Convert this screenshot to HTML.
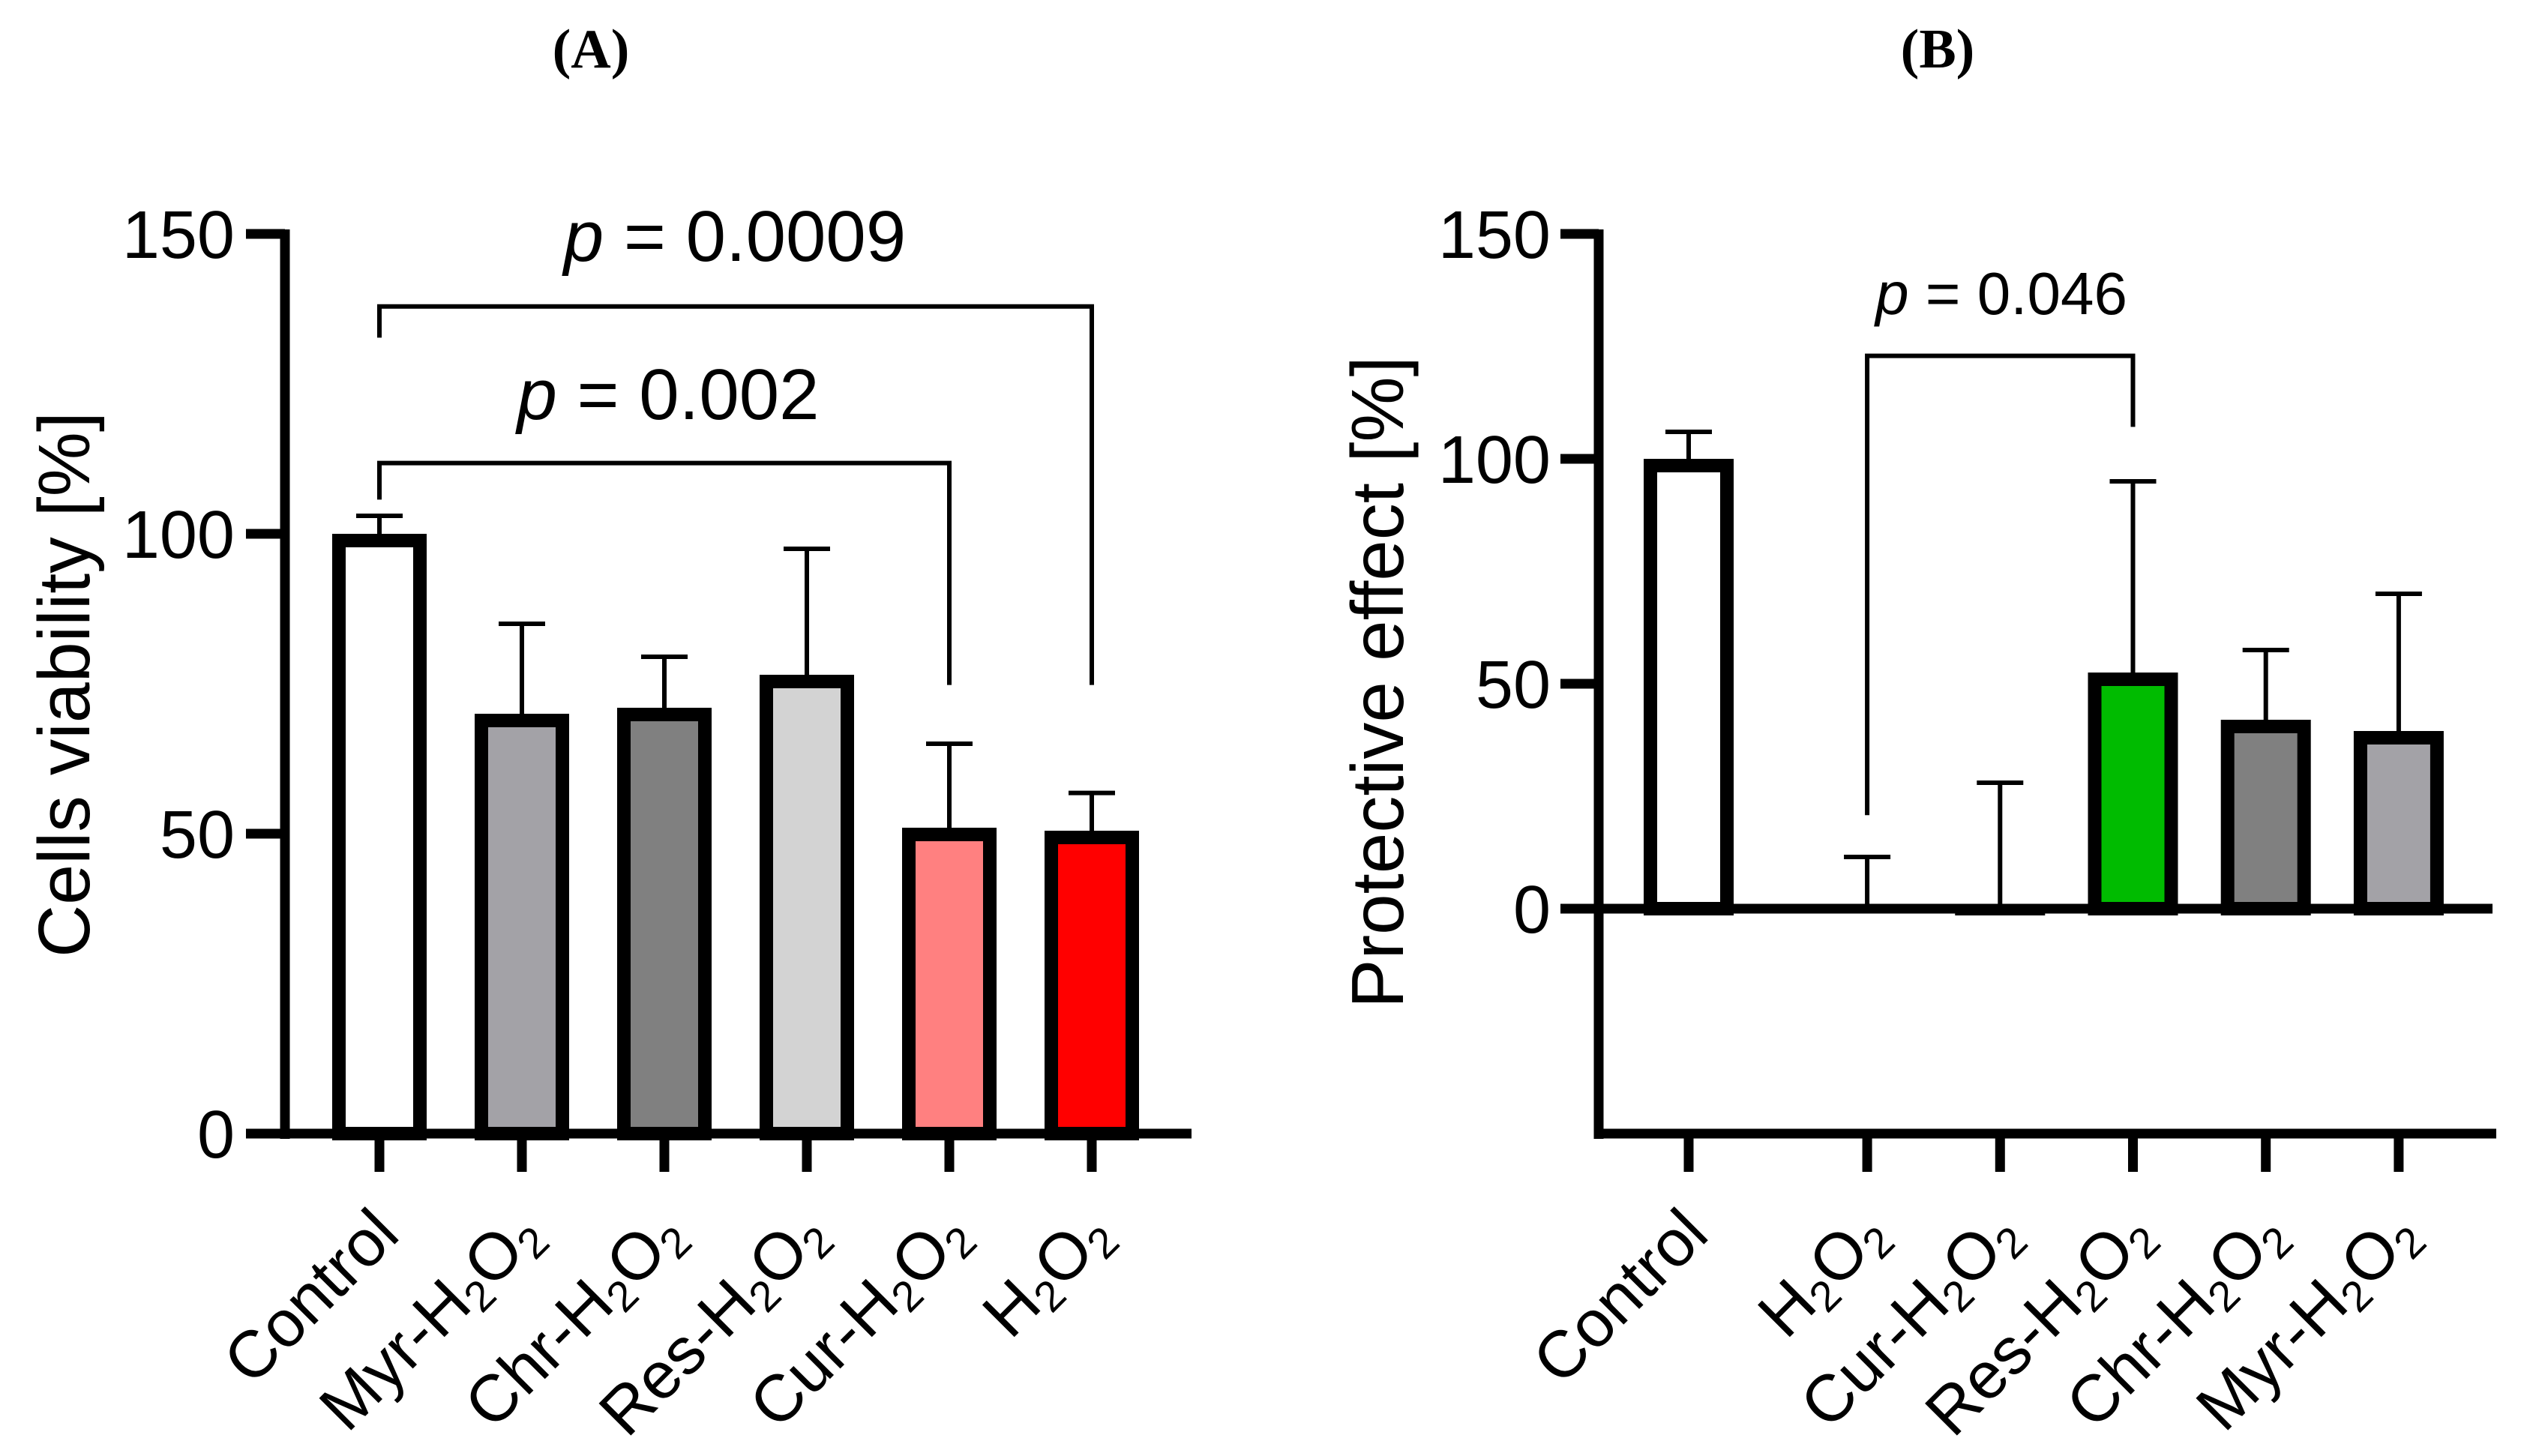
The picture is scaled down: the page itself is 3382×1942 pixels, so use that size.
<!DOCTYPE html>
<html><head><meta charset="utf-8"><style>
html,body{margin:0;padding:0;background:#fff;}
svg{display:block;}
text{font-family:"Liberation Sans",Arial,sans-serif;fill:#000;}
</style></head><body>
<svg id="fig" width="3382" height="1942" viewBox="0 0 3382 1942" xmlns="http://www.w3.org/2000/svg">
<text x="788" y="90" text-anchor="middle" style="font-family:'Liberation Serif',serif;font-weight:bold;font-size:74px">(A)</text>
<text x="2584" y="90" text-anchor="middle" style="font-family:'Liberation Serif',serif;font-weight:bold;font-size:74px">(B)</text>
<g id="chartA"></g>
<g id="chartB"></g>
</svg>
<script>
// ---- Chart A data ----
const catsA = ["Control","Myr-H2O2","Chr-H2O2","Res-H2O2","Cur-H2O2","H2O2"];
const valsA = [100, 70, 71, 76.5, 51, 50.5];
const errA = [3, 15, 8.5, 21, 14, 6.3];
const colorsA = ["#ffffff","#a3a2a7","#808080","#d3d3d3","#ff8080","#ff0000"];
const ticksA = [0, 50, 100, 150];
// ---- Chart B data ----
const catsB = ["Control","H2O2","Cur-H2O2","Res-H2O2","Chr-H2O2","Myr-H2O2"];
const valsB = [100, 0, -1, 52.5, 42, 39.5];
const errB = [6, 11.5, 29, 42.5, 15.5, 30.5];
const colorsB = ["#ffffff","#ffffff","#ffffff","#00bb00","#808080","#a3a2a7"];
const ticksB = [0, 50, 100, 150];

const NS = "http://www.w3.org/2000/svg";
function mk(parent, tag, attrs){const e=document.createElementNS(NS,tag);for(const k in attrs)e.setAttribute(k,attrs[k]);parent.appendChild(e);return e;}
function label(parent,x,y,txt,size){
  const t=mk(parent,"text",{x:x,y:y,"text-anchor":"end","font-size":size,transform:`rotate(-45 ${x} ${y})`});
  const parts=txt.split(/(H2O2)/);
  parts.forEach(p=>{
    if(p==="H2O2"){
      [["H",0],["2",1],["O",0],["2",1]].forEach(([c,s])=>{
        const ts=mk(t,"tspan",{});
        if(s){ts.setAttribute("font-size",size*0.65);ts.setAttribute("baseline-shift","-25%");}
        ts.textContent=c;});
    } else if(p){const ts=mk(t,"tspan",{});ts.textContent=p;}
  });
  return t;
}

// Chart A
(function(){
  const g=document.getElementById("chartA");
  const y0=1512, ppu=8, axX=380;
  const y=v=>y0-v*ppu;
  const xs=i=>506+i*190;
  mk(g,"line",{x1:axX,y1:y(150)-6,x2:axX,y2:y0+7,stroke:"#000","stroke-width":13});
  mk(g,"line",{x1:328,y1:y0,x2:1589,y2:y0,stroke:"#000","stroke-width":13});
  ticksA.forEach(t=>{
    const l=mk(g,"line",{x1:328,y1:y(t),x2:axX,y2:y(t),stroke:"#000","stroke-width":13});
    
    
    const tx=mk(g,"text",{x:313,y:y(t)+32,"text-anchor":"end","font-size":90});
    tx.textContent=t;
    
    
  });
  const yt=mk(g,"text",{x:119,y:913,"text-anchor":"middle","font-size":97,transform:"rotate(-90 119 913)"});
  yt.textContent="Cells viability [%]";
  
  
  catsA.forEach((c,i)=>{
    const cx=xs(i);
    const e=mk(g,"path",{d:`M${cx} ${y(valsA[i])} V${y(valsA[i]+errA[i])} M${cx-31} ${y(valsA[i]+errA[i])} H${cx+31}`,stroke:"#000","stroke-width":6,fill:"none"});
    
    
    const b=mk(g,"rect",{x:cx-54,y:y(valsA[i])+9,width:108,height:y0-y(valsA[i])-9,fill:colorsA[i],stroke:"#000","stroke-width":18});
    
    
    const tk=mk(g,"line",{x1:cx,y1:y0,x2:cx,y2:1563,stroke:"#000","stroke-width":13});
    
    
    const lb=label(g,cx+30,1650,c,88);
    
    
  });
  const br1=mk(g,"path",{d:`M${xs(0)} ${y(132.7)} V${y(137.9)} H${xs(5)} V${y(74.8)}`,stroke:"#000","stroke-width":6,fill:"none"});
  
  
  const br2=mk(g,"path",{d:`M${xs(0)} ${y(105.7)} V${y(111.8)} H${xs(4)} V${y(74.8)}`,stroke:"#000","stroke-width":6,fill:"none"});
  
  
  const p1=mk(g,"text",{x:980,y:348,"text-anchor":"middle","font-size":96});
  p1.innerHTML='<tspan font-style="italic">p</tspan> = 0.0009';
  
  
  const p2=mk(g,"text",{x:891,y:559,"text-anchor":"middle","font-size":96});
  p2.innerHTML='<tspan font-style="italic">p</tspan> = 0.002';
  
  
})();

// Chart B
(function(){
  const g=document.getElementById("chartB");
  const y0=1212, ppu=6, axX=2132;
  const y=v=>y0-v*ppu;
  const xsArr=[0,1.33,2.32,3.31,4.3,5.29];
  const xs=i=>2252+xsArr[i]*179;
  mk(g,"line",{x1:axX,y1:y(150)-6,x2:axX,y2:1519,stroke:"#000","stroke-width":13});
  mk(g,"line",{x1:2126,y1:1512,x2:3329,y2:1512,stroke:"#000","stroke-width":13});
  mk(g,"line",{x1:2081,y1:y0,x2:3324,y2:y0,stroke:"#000","stroke-width":13});
  ticksB.forEach(t=>{
    const l=mk(g,"line",{x1:2081,y1:y(t),x2:axX,y2:y(t),stroke:"#000","stroke-width":13});
    
    
    const tx=mk(g,"text",{x:2068,y:y(t)+32,"text-anchor":"end","font-size":90});
    tx.textContent=t;
    
    
  });
  const yt=mk(g,"text",{x:1871,y:910,"text-anchor":"middle","font-size":98,transform:"rotate(-90 1871 910)"});
  yt.textContent="Protective effect [%]";
  
  
  catsB.forEach((c,i)=>{
    const cx=xs(i), v=valsB[i];
    const e=mk(g,"path",{d:`M${cx} ${y(Math.max(v,0))} V${y(v+errB[i])} M${cx-31} ${y(v+errB[i])} H${cx+31}`,stroke:"#000","stroke-width":6,fill:"none"});
    
    
    let b;
    if(v>=2){
      b=mk(g,"rect",{x:cx-51,y:y(v)+9,width:102,height:y0-y(v)-9,fill:colorsB[i],stroke:"#000","stroke-width":18});
    } else {
      b=mk(g,"rect",{x:cx-60,y:y0,width:120,height:Math.max(0,-v*ppu)+3,fill:"#000"});
    }
    
    
    const tk=mk(g,"line",{x1:cx,y1:1512,x2:cx,y2:1563,stroke:"#000","stroke-width":13});
    
    
    const lb=label(g,cx+30,1650,c,88);
    
    
  });
  const br=mk(g,"path",{d:`M${xs(1)} ${y(20.8)} V${y(122.9)} H${xs(3)} V${y(107.1)}`,stroke:"#000","stroke-width":6,fill:"none"});
  
  
  const p=mk(g,"text",{x:2669,y:419,"text-anchor":"middle","font-size":80});
  p.innerHTML='<tspan font-style="italic">p</tspan> = 0.046';
  
  
})();
</script>
</body></html>
